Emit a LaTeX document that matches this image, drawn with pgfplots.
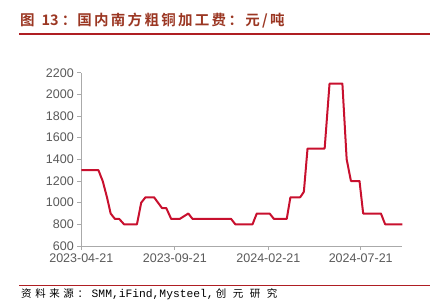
\documentclass[border=0pt]{standalone}
\usepackage{fontspec}
\setmainfont{Liberation Sans}
\newfontfamily\cjkb{Noto Sans CJK SC Bold}
\newfontfamily\cjk{Noto Sans CJK SC}
\newfontfamily\lmono{Liberation Mono}
\usepackage{pgfplots}
\pgfplotsset{compat=1.18}
\definecolor{linered}{RGB}{200,16,46}
\definecolor{titlebrown}{RGB}{155,55,35}
\definecolor{rulered}{RGB}{175,30,35}
\definecolor{axgray}{RGB}{170,170,170}
\definecolor{lblgray}{RGB}{89,89,89}
\def\s{\hspace{3.6pt}}
\def\q{\hspace{6.5pt}}
\def\t{\hspace{2.3pt}}
\begin{document}
\begin{tikzpicture}
\useasboundingbox (0,0) rectangle (445pt,308pt);
\node[anchor=west, inner sep=0pt, text=titlebrown] at (20pt,287pt)
  {\cjkb\fontsize{14.5}{16}\selectfont 图\hspace{7pt}13\hspace{3pt}：\hspace{1pt}国\t 内\t 南\t 方\t 粗\t 铜\t 加\t 工\t 费\t ：\t 元\t /\t 吨};
\draw[rulered, line width=1.2pt] (19pt,274pt) -- (430pt,274pt);
\draw[rulered, line width=1.2pt] (19pt,22.7pt) -- (430pt,22.7pt);
\node[anchor=west, inner sep=0pt] at (21pt,13.5pt)
  {\fontsize{10.5}{12}\selectfont\cjk 资\s 料\s 来\s 源\s ：\s{\lmono\fontsize{11.3}{12}\selectfont SMM,iFind,Mysteel,}\hspace{2pt}创\q 元\q 研\q 究};
\begin{axis}[
  at={(81.3pt,62pt)}, anchor=south west, scale only axis,
  width=321pt, height=173.3pt,
  xmin=0, xmax=525, ymin=600, ymax=2200,
  axis x line=bottom, axis y line=left,
  axis line style={-, axgray, line width=0.8pt},
  tick align=outside, major tick length=4pt,
  tick style={axgray, line width=0.8pt},
  xtick={0,153,306,457},
  xticklabels={2023-04-21,2023-09-21,2024-02-21,2024-07-21},
  ytick={600,800,...,2200},
  ticklabel style={font=\fontsize{12.5}{14}\selectfont, text=lblgray},
  /pgf/number format/assume math mode=true,
  y tick label style={/pgf/number format/1000 sep={}},
  clip=false,
]
\addplot[linered, line width=2pt, line join=round] coordinates {
(0,1300) (28,1300) (35,1200) (42,1050) (48,900) (55,850) (62,850) (70,800)
(91,800) (98,1000) (105,1050) (119,1050) (132,950) (139,950) (147,850)
(161,850) (175,900) (182,850) (245,850) (252,800) (280,800) (287,900)
(308,900) (315,850) (336,850) (342,1050) (358,1050) (364,1100) (370,1500)
(398,1500) (406,2100) (427,2100) (434,1400) (441,1200) (455,1200) (461,900)
(490,900) (497,800) (525,800)
};
\end{axis}
\end{tikzpicture}
\end{document}
